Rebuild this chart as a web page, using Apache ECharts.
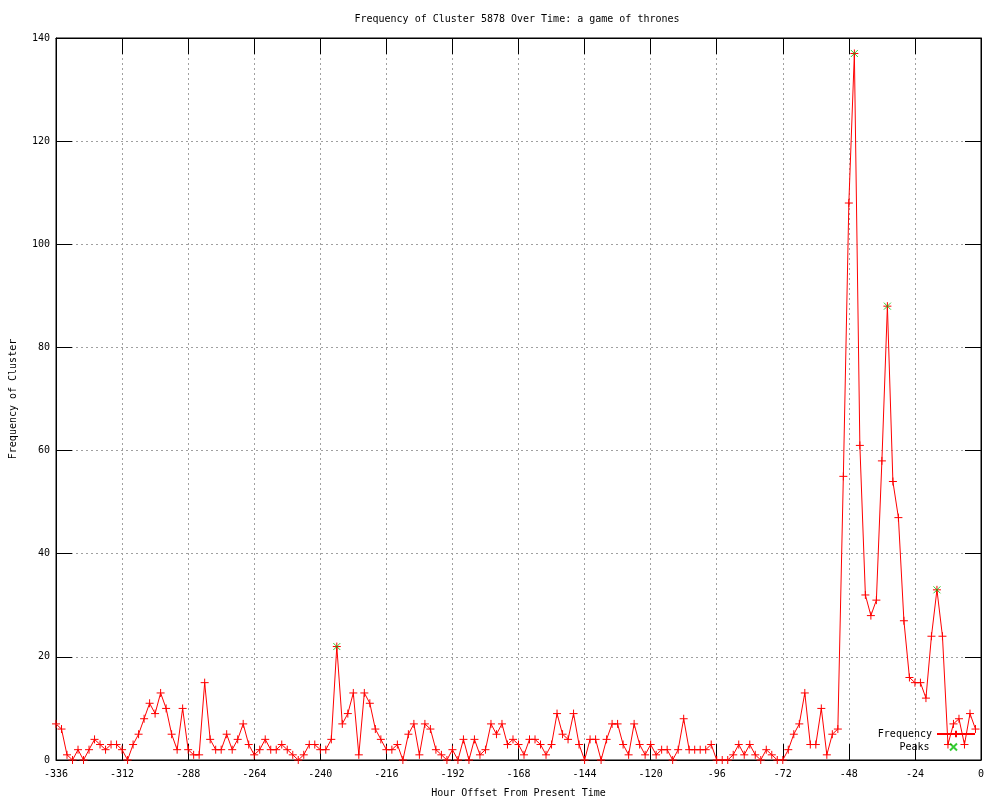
<!DOCTYPE html>
<html>
<head>
<meta charset="utf-8">
<script src="https://cdn.jsdelivr.net/npm/echarts@6/dist/echarts.min.js"></script>
<style>
html,body{margin:0;padding:0;background:#fff;}
#chart{width:1000px;height:800px;}
</style>
</head>
<body>
<div id="chart"></div>
<script>
const hours = [-336,-334,-332,-330,-328,-326,-324,-322,-320,-318,-316,-314,-312,-310,-308,-306,-304,-302,-300,-298,-296,-294,-292,-290,-288,-286,-284,-282,-280,-278,-276,-274,-272,-270,-268,-266,-264,-262,-260,-258,-256,-254,-252,-250,-248,-246,-244,-242,-240,-238,-236,-234,-232,-230,-228,-226,-224,-222,-220,-218,-216,-214,-212,-210,-208,-206,-204,-202,-200,-198,-196,-194,-192,-190,-188,-186,-184,-182,-180,-178,-176,-174,-172,-170,-168,-166,-164,-162,-160,-158,-156,-154,-152,-150,-148,-146,-144,-142,-140,-138,-136,-134,-132,-130,-128,-126,-124,-122,-120,-118,-116,-114,-112,-110,-108,-106,-104,-102,-100,-98,-96,-94,-92,-90,-88,-86,-84,-82,-80,-78,-76,-74,-72,-70,-68,-66,-64,-62,-60,-58,-56,-54,-52,-50,-48,-46,-44,-42,-40,-38,-36,-34,-32,-30,-28,-26,-24,-22,-20,-18,-16,-14,-12,-10,-8,-6,-4,-2];

const frequency = [7,6,1,0,2,0,2,4,3,2,3,3,2,0,3,
  5,8,11,9,13,10,5,2,10,2,1,1,15,
  4,2,2,5,2,4,7,3,1,2,4,2,2,3,2,1,
  0,1,3,3,2,2,4,22,7,9,13,1,13,11,6,
  4,2,2,3,0,5,7,1,7,6,2,1,0,2,
  0,4,0,4,1,2,7,5,7,3,4,3,1,4,
  4,3,1,3,9,5,4,9,3,0,4,4,0,4,7,
  7,3,1,7,3,1,3,1,2,2,0,2,8,2,
  2,2,2,3,0,0,0,1,3,1,3,1,0,2,1,
  0,0,2,5,7,13,3,3,10,1,5,6,
  55,108,137,61,32,28,31,58,88,54,47,27,16,15,15,12,24,33,24,3,7,8,3,9,6];

const peakHours = [-234, -46, -34, -16];
const peakValues = [22, 137, 88, 33];

const titleText = 'Frequency of Cluster 5878 Over Time: a game of thrones';
const xName = 'Hour Offset From Present Time';
const yName = 'Frequency of Cluster';

const FONT = 'DejaVu Sans Mono';
const PLUS = 'path://M0,5L10,5M5,0L5,10';
const CROSS = 'path://M0,0L10,10M10,0L0,10';

const freqData = hours.map((h, i) => [h, frequency[i]]);
const peakData = peakHours.map((h, i) => [h, peakValues[i]]);

const chart = echarts.init(document.getElementById('chart'), null, {renderer: 'canvas'});

const tickStyle = {show: true, inside: true, length: 16, lineStyle: {color: '#000', width: 1}};
const lineStyleAxis = {show: true, onZero: false, lineStyle: {color: '#000', width: 1}};
const gridLine = {show: true, lineStyle: {color: '#a0a0a0', type: [2, 3], width: 1}};

chart.setOption({
  animation: false,
  backgroundColor: '#fff',
  title: {
    text: titleText, left: 512, top: 9, textAlign: 'center',
    textStyle: {fontFamily: FONT, fontSize: 10, fontWeight: 'normal', color: '#000'}
  },
  grid: {left: 56, right: 19, top: 38, bottom: 40, show: true, borderColor: '#000', borderWidth: 1,
         containLabel: false, outerBoundsMode: 'none'},
  legend: [
    {
      data: ['Frequency'], orient: 'vertical', align: 'right', right: 24, top: 729,
      itemWidth: 38, itemHeight: 8, padding: 0,
      textStyle: {fontFamily: FONT, fontSize: 10, color: '#000'}
    },
    {
      data: ['Peaks'], orient: 'vertical', align: 'right', right: 42, top: 742,
      itemWidth: 38, itemHeight: 7, padding: 0,
      textStyle: {fontFamily: FONT, fontSize: 10, color: '#000'}
    }
  ],
  xAxis: [
    {
      type: 'value', min: -336, max: 0, interval: 24, position: 'bottom',
      name: xName, nameLocation: 'middle', nameGap: 28,
      nameTextStyle: {fontFamily: FONT, fontSize: 10, color: '#000'},
      axisLine: lineStyleAxis, axisTick: tickStyle,
      axisLabel: {fontFamily: FONT, fontSize: 10, color: '#000', margin: 9},
      splitLine: gridLine
    },
    {
      type: 'value', min: -336, max: 0, interval: 24, position: 'top',
      axisLine: lineStyleAxis, axisTick: tickStyle,
      axisLabel: {show: false}, splitLine: {show: false}
    }
  ],
  yAxis: [
    {
      type: 'value', min: 0, max: 140, interval: 20, position: 'left',
      name: yName, nameLocation: 'middle', nameGap: 38,
      nameTextStyle: {fontFamily: FONT, fontSize: 10, color: '#000'},
      axisLine: lineStyleAxis, axisTick: tickStyle,
      axisLabel: {fontFamily: FONT, fontSize: 10, color: '#000', margin: 6},
      splitLine: gridLine
    },
    {
      type: 'value', min: 0, max: 140, interval: 20, position: 'right',
      axisLine: lineStyleAxis, axisTick: tickStyle,
      axisLabel: {show: false}, splitLine: {show: false}
    }
  ],
  series: [
    {
      name: 'Frequency', type: 'line', data: freqData,
      xAxisIndex: 0, yAxisIndex: 0,
      symbol: PLUS, symbolSize: 8, showAllSymbol: true,
      lineStyle: {color: '#ff0000', width: 1},
      itemStyle: {color: '#ff0000', borderColor: '#ff0000', borderWidth: 1},
      z: 3
    },
    {
      name: 'Peaks', type: 'scatter', data: peakData,
      xAxisIndex: 0, yAxisIndex: 0,
      symbol: CROSS, symbolSize: 7,
      itemStyle: {color: '#00c000', borderColor: '#00c000', borderWidth: 1},
      z: 4
    }
  ]
});
</script>
</body>
</html>
